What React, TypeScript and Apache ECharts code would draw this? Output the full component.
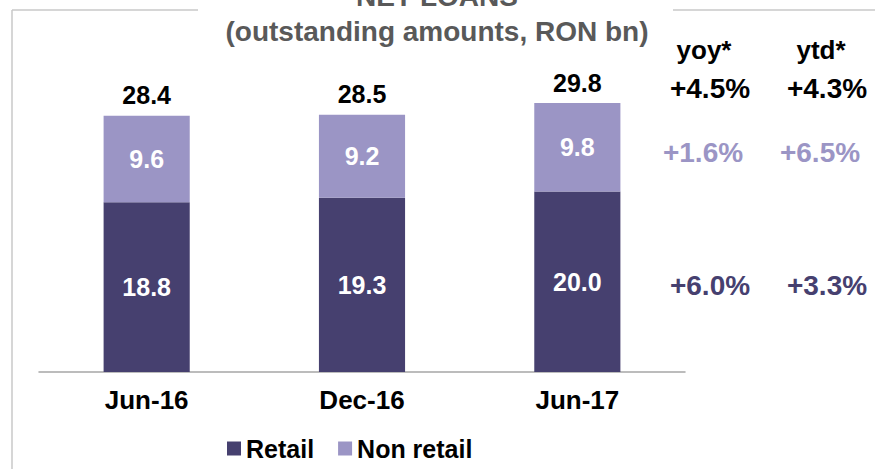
import React, { useEffect, useRef } from "react";
import * as echarts from "echarts";

const categories = ["Jun-16", "Dec-16", "Jun-17"];
const retail = [18.8, 19.3, 20.0];
const nonRetail = [9.6, 9.2, 9.8];
const totals = [28.4, 28.5, 29.8];
const growthHeaders = ["yoy*", "ytd*"];
// rows: total, non retail, retail
const yoy = [4.5, 1.6, 6.0];
const ytd = [4.3, 6.5, 3.3];

const DARK = "#46406F";
const LIGHT = "#9B95C5";
const FONT = "'Liberation Sans', Arial, sans-serif";

const fmtPct = (v: number) => "+" + v.toFixed(1) + "%";

export default function App() {
  const ref = useRef<HTMLDivElement>(null);
  useEffect(() => {
    if (!ref.current) return;
    const chart = echarts.init(ref.current, undefined, { renderer: "svg" });
    const rowY = [88, 152, 285];
    const rowColors = ["#000000", LIGHT, DARK];
    const colX = [710, 827];
    const graphics: any[] = [
      { type: "line", shape: { x1: 12, y1: 10, x2: 198, y2: 10 }, style: { stroke: "#C8C8C8", lineWidth: 1.5 } },
      { type: "line", shape: { x1: 673, y1: 10, x2: 875, y2: 10 }, style: { stroke: "#C8C8C8", lineWidth: 1.5 } },
      { type: "line", shape: { x1: 12, y1: 10, x2: 12, y2: 469 }, style: { stroke: "#C8C8C8", lineWidth: 1.5 } },
    ];
    growthHeaders.forEach((h, i) => {
      graphics.push({
        type: "text",
        x: colX[i] - 6,
        y: 50,
        style: { text: h, fill: "#000", font: `bold 26px ${FONT}`, textAlign: "center", textVerticalAlign: "middle" },
      });
    });
    [yoy, ytd].forEach((arr, c) => {
      arr.forEach((v, r) => {
        graphics.push({
          type: "text",
          x: colX[c] + (r === 1 ? -7 : 0),
          y: rowY[r],
          style: { text: fmtPct(v), fill: rowColors[r], font: `bold 28px ${FONT}`, textAlign: "center", textVerticalAlign: "middle" },
        });
      });
    });
    chart.setOption({
      animation: false,
      title: {
        text: "NET LOANS\n(outstanding amounts, RON bn)",
        left: 437,
        textAlign: "center",
        top: -21,
        padding: 0,
        textStyle: { color: "#595959", fontFamily: FONT, fontWeight: "bold", fontSize: 28, lineHeight: 35 },
      },
      grid: { left: 39, right: 190, top: 11, bottom: 97 },
      legend: {
        data: ["Retail", "Non retail"],
        left: 222,
        top: 431,
        itemWidth: 14,
        itemHeight: 14,
        itemGap: 24,
        icon: "rect",
        textStyle: { color: "#000", fontFamily: FONT, fontWeight: "bold", fontSize: 25 },
      },
      xAxis: {
        type: "category",
        data: categories,
        axisLine: { lineStyle: { color: "#A6A6A6", width: 1.5 } },
        axisTick: { lineStyle: { color: "#A6A6A6", width: 1.5 }, length: 5 },
        axisLabel: { color: "#000", fontFamily: FONT, fontWeight: "bold", fontSize: 26, margin: 15 },
      },
      yAxis: { type: "value", min: 0, max: 40, show: false, splitLine: { show: false } },
      series: [
        {
          name: "Retail",
          type: "bar",
          stack: "a",
          data: retail,
          barWidth: "40%",
          itemStyle: { color: DARK },
          label: { show: true, position: "inside", color: "#fff", fontFamily: FONT, fontWeight: "bold", fontSize: 25, formatter: (p: any) => p.value.toFixed(1) },
        },
        {
          name: "Non retail",
          type: "bar",
          stack: "a",
          data: nonRetail,
          barWidth: "40%",
          itemStyle: { color: LIGHT },
          label: { show: true, position: "inside", color: "#fff", fontFamily: FONT, fontWeight: "bold", fontSize: 25, formatter: (p: any) => p.value.toFixed(1) },
        },
        {
          name: "Total",
          type: "bar",
          data: totals,
          barWidth: "40%",
          barGap: "-100%",
          z: 1,
          itemStyle: { color: "rgba(0,0,0,0)" },
          label: { show: true, position: "top", distance: 8, color: "#000", fontFamily: FONT, fontWeight: "bold", fontSize: 25, formatter: (p: any) => p.value.toFixed(1) },
          tooltip: { show: false },
        },
      ],
      graphic: graphics,
    });
    return () => chart.dispose();
  }, []);
  return <div ref={ref} style={{ width: 875, height: 469, position: "absolute", left: 0, top: 0 }} />;
}
